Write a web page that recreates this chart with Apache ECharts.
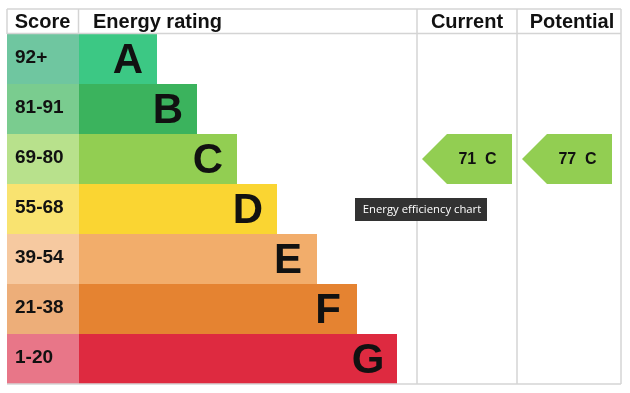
<!DOCTYPE html>
<html><head><meta charset="utf-8">
<script src="https://cdn.jsdelivr.net/npm/echarts@6/dist/echarts.min.js"></script>
<style>html,body{margin:0;padding:0;background:#fff}#c{width:630px;height:393px}</style>
</head><body><div id="c"></div>
<script>
// ---- data ----
const ratings = ['A','B','C','D','E','F','G'];
const scoreLabels = ['92+','81-91','69-80','55-68','39-54','21-38','1-20'];
const bandMin = [92,81,69,55,39,21,1];
const barLength = [2,3,4,5,6,7,8];
const currentScore = 71;
const potentialScore = 77;
const headers = ['Score','Energy rating','Current','Potential'];
const tooltipText = 'Energy efficiency chart';

// ---- styles ----
const barColors = ['#3cc884','#3bb35d','#92ce52','#fad532','#f2ad6b','#e58331','#de2a40'];
const scoreColors = ['#6fc6a0','#7acc8f','#b8e18c','#f9e370','#f6c9a0','#edae79','#e87688'];
const lineColor = '#d4d4d4';
const FAM = 'Liberation Sans';

// layout in axis units (1 unit = 40px)
const SCORE_W = 1.8;
const CUR_COL = [10.25, 12.75];
const POT_COL = [12.75, 15.35];
const X_MAX = 15.35;

const G = {left: 7, right: 9, top: 34, bottom: 9};
const W = 630, H = 393;
const gx0 = G.left, gx1 = W - G.right, gy0 = G.top, gy1 = H - G.bottom, ty = 9;
const colX = v => gx0 + v / X_MAX * (gx1 - gx0);

const chart = echarts.init(document.getElementById('c'), null, {renderer: 'canvas'});

function bandOf(score){ return bandMin.findIndex(m => score >= m); }

function txt(x, y, text, size, align, weight){
  return {x, y, text, fill:'#111', fontFamily:FAM, fontWeight:weight||'bold', fontSize:size, align, verticalAlign:'middle'};
}

function renderRow(params, api){
  const i = api.value(0);
  const c = api.coord([0, i]);
  const h = api.size([0, 1])[1];
  const yTop = c[1] - h/2;
  const x0 = c[0];
  const x1 = api.coord([SCORE_W, i])[0];
  const x2 = api.coord([SCORE_W + barLength[i] - 0.05, i])[0];
  return {type: 'group', children: [
    {type:'rect', shape:{x:x0, y:yTop, width:x1-x0, height:h}, style:{fill:scoreColors[i]}},
    {type:'rect', shape:{x:x1, y:yTop, width:x2-x1, height:h}, style:{fill:barColors[i]}},
    {type:'text', style:txt(x0+8, c[1]-1, scoreLabels[i], 19, 'left')},
    {type:'text', style:txt(x2-29, c[1]+2, ratings[i], 42, 'center')}
  ]};
}

const arrowData = [
  {score: currentScore, col: CUR_COL},
  {score: potentialScore, col: POT_COL}
];

function renderArrow(params, api){
  const d = arrowData[params.dataIndex];
  const i = bandOf(d.score);
  const c = api.coord([d.col[0], i]);
  const h = api.size([0, 1])[1];
  const xs = c[0] + 5;
  const xe = xs + 90;
  const yt = c[1] - h/2, yb = c[1] + h/2;
  const depth = 25;
  return {type:'group', children:[
    {type:'polygon', shape:{points:[[xs,c[1]],[xs+depth,yt],[xe,yt],[xe,yb],[xs+depth,yb]]}, style:{fill:barColors[i]}},
    {type:'text', style:txt((xs+depth+xe)/2 - 2, c[1]+1, d.score+'  '+ratings[i], 16, 'center')}
  ]};
}

const L = (x1,y1,x2,y2) => ({type:'line', z:50, shape:{x1,y1,x2,y2}, style:{stroke:lineColor, lineWidth:1.5}});
const headerY = (ty + gy0) / 2 + 0.5;
const graphics = [
  L(gx0, ty, gx1, ty),
  L(gx0, gy0-0.5, gx1, gy0-0.5),
  L(gx0, gy1, gx1, gy1),
  L(gx0, ty, gx0, gy0),
  L(colX(SCORE_W)-0.5, ty, colX(SCORE_W)-0.5, gy0),
  L(colX(CUR_COL[0]), ty, colX(CUR_COL[0]), gy1),
  L(colX(POT_COL[0]), ty, colX(POT_COL[0]), gy1),
  L(gx1, ty, gx1, gy1),
  {type:'text', z:60, style:txt((gx0+colX(SCORE_W))/2 - 0.5, headerY, headers[0], 20, 'center')},
  {type:'text', z:60, style:txt(colX(SCORE_W)+14, headerY, headers[1], 20, 'left')},
  {type:'text', z:60, style:txt((colX(CUR_COL[0])+colX(CUR_COL[1]))/2, headerY, headers[2], 20, 'center')},
  {type:'text', z:60, style:txt((colX(POT_COL[0])+colX(POT_COL[1]))/2 + 3, headerY, headers[3], 20, 'center')},
  {type:'rect', z:100, shape:{x:355, y:198, width:132, height:23}, style:{fill:'#323232'}},
  {type:'text', z:101, style:{x:422, y:210, text:tooltipText, fill:'#fff', fontFamily:'Open Sans', fontSize:11.3, align:'center', verticalAlign:'middle'}}
];

chart.setOption({
  animation: false,
  grid: {left: G.left, right: G.right, top: G.top, bottom: G.bottom, containLabel: false},
  xAxis: {type:'value', min:0, max:X_MAX, show:false},
  yAxis: {type:'category', data:ratings, inverse:true, show:false},
  graphic: graphics,
  series: [
    {type:'custom', silent:true, clip:false, renderItem:renderRow, data:ratings.map((r,i)=>[i]), encode:{x:-1, y:0}},
    {type:'custom', silent:true, clip:false, renderItem:renderArrow, data:arrowData.map(d=>[d.score, bandOf(d.score)]), encode:{x:0, y:1}}
  ]
});
</script></body></html>
